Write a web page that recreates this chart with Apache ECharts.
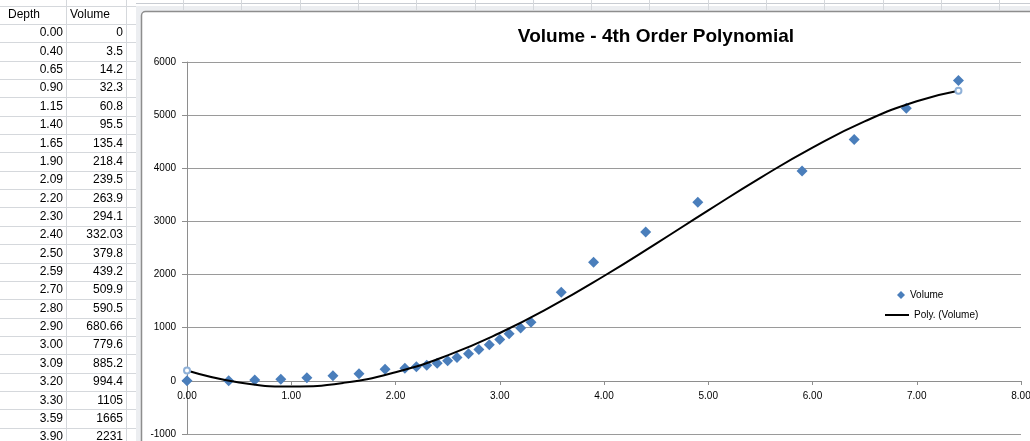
<!DOCTYPE html>
<html>
<head>
<meta charset="utf-8">
<script src="https://cdn.jsdelivr.net/npm/echarts@6/dist/echarts.min.js"></script>
<style>
html,body{margin:0;padding:0;background:#fff;}
#chart{width:1030px;height:441px;}
</style>
</head>
<body>
<div id="chart"></div>
<script>
// ---- data ----
var tableHeaders = ['Depth', 'Volume'];
var depthLabels = ['0.00','0.40','0.65','0.90','1.15','1.40','1.65','1.90','2.09','2.20','2.30','2.40','2.50','2.59','2.70','2.80','2.90','3.00','3.09','3.20','3.30','3.59','3.90'];
var volumeLabels = ['0','3.5','14.2','32.3','60.8','95.5','135.4','218.4','239.5','263.9','294.1','332.03','379.8','439.2','509.9','590.5','680.66','779.6','885.2','994.4','1105','1665','2231'];
var depth = [0,0.40,0.65,0.90,1.15,1.40,1.65,1.90,2.09,2.20,2.30,2.40,2.50,2.59,2.70,2.80,2.90,3.00,3.09,3.20,3.30,3.59,3.90,4.40,4.90,5.90,6.40,6.90,7.40];
var volume = [0,3.5,14.2,32.3,60.8,95.5,135.4,218.4,239.5,263.9,294.1,332.03,379.8,439.2,509.9,590.5,680.66,779.6,885.2,994.4,1105,1665,2231,2800,3360,3950,4540,5130,5650];
// trendline values
var trendX = [0,0.5,1.0,1.5,2.0,2.5,3.0,3.5,4.0,4.5,5.0,5.5,6.0,6.5,7.0,7.4];
var trendY = [195,-30,-105,-38,162,479,900,1404,1973,2583,3208,3820,4389,4882,5262,5460];
var xTicks = ['0.00','1.00','2.00','3.00','4.00','5.00','6.00','7.00','8.00'];

var scatterData = depth.map(function(d,i){return [d, volume[i]];});
var trendData = trendX.map(function(x,i){
  var item = {value:[x, trendY[i]]};
  if (i === 0 || i === trendX.length-1) {
    item.symbol = 'emptyCircle'; item.symbolSize = 6;
    item.itemStyle = {color:'#8fb1d8', borderColor:'#8fb1d8', borderWidth:1};
  }
  return item;
});

// ---- spreadsheet backdrop (graphic) ----
var FONT = 'Liberation Sans';
var gridCol = '#d5d8dc';
var g = [];
var rowTop = 5.5, rowH = 18.36;
var nRows = depthLabels.length + 1;
for (var r = 0; r <= nRows; r++) {
  var y = Math.round(rowTop + r*rowH) + 0.5;
  g.push({type:'line', shape:{x1:0,y1:y,x2:136,y2:y}, style:{stroke:gridCol, lineWidth:1}, silent:true});
}
[66.5, 126.5].forEach(function(x){
  g.push({type:'line', shape:{x1:x,y1:0,x2:x,y2:441}, style:{stroke:gridCol, lineWidth:1}, silent:true});
});
g.push({type:'text', x:8, y:rowTop+rowH/2, style:{text:tableHeaders[0], font:'12px '+FONT, fill:'#000', verticalAlign:'middle'}});
g.push({type:'text', x:70, y:rowTop+rowH/2, style:{text:tableHeaders[1], font:'12px '+FONT, fill:'#000', verticalAlign:'middle'}});
depthLabels.forEach(function(t,i){
  var cy = rowTop + (i+1)*rowH + rowH/2;
  g.push({type:'text', x:63, y:cy, style:{text:t, font:'12px '+FONT, fill:'#000', align:'right', verticalAlign:'middle'}});
  g.push({type:'text', x:123, y:cy, style:{text:volumeLabels[i], font:'12px '+FONT, fill:'#000', align:'right', verticalAlign:'middle'}});
});
g.push({type:'line', shape:{x1:136,y1:3.5,x2:1030,y2:3.5}, style:{stroke:'#c8ccd2', lineWidth:1}, silent:true});
for (var cx = 183; cx < 1030; cx += 58.3) {
  var xx = Math.round(cx)+0.5;
  g.push({type:'line', shape:{x1:xx,y1:0,x2:xx,y2:10}, style:{stroke:gridCol, lineWidth:1}, silent:true});
}
g.push({type:'rect', shape:{x:136,y:6,width:900,height:440}, style:{fill:'#eceef1', stroke:null}, silent:true, z:-10});
g.push({type:'rect', shape:{x:141.5,y:11.5,width:900,height:440, r:[4,0,0,0]}, style:{fill:'#fff', stroke:'#8d8d8d', lineWidth:1.5}, silent:true, z:-9});

var chart = echarts.init(document.getElementById('chart'), null, {renderer:'canvas'});
chart.setOption({
  animation:false,
  textStyle:{fontFamily:FONT},
  title:{
    text:'Volume - 4th Order Polynomial',
    left:651, top:22, textAlign:'center',
    textStyle:{fontFamily:FONT, fontSize:19, fontWeight:'bold', color:'#000'}
  },
  legend:[{
    data:['Volume'], left:892, top:285, orient:'vertical',
    icon:'diamond', itemWidth:8, itemHeight:8,
    textStyle:{fontFamily:FONT, fontSize:10, color:'#000'}
  },{
    data:['Poly. (Volume)'], left:880, top:305, orient:'vertical',
    icon:'rect', itemWidth:24, itemHeight:2,
    textStyle:{fontFamily:FONT, fontSize:10, color:'#000'}
  }],
  grid:{left:187, right:9, top:62, bottom:7, containLabel:false, outerBoundsMode:'none'},
  xAxis:{
    type:'value', min:0, max:8, interval:1, position:'bottom', offset:-53,
    axisLine:{onZero:false, lineStyle:{color:'#8e8e8e', width:1}},
    axisTick:{show:true, length:4, lineStyle:{color:'#8e8e8e'}},
    axisLabel:{show:true, color:'#000', fontSize:10, fontFamily:FONT, margin:10,
      formatter:function(v){return xTicks[Math.round(v)];}},
    splitLine:{show:false}
  },
  yAxis:{
    type:'value', min:-1000, max:6000, interval:1000,
    axisLine:{show:true, onZero:false, lineStyle:{color:'#8e8e8e', width:1}},
    axisTick:{show:true, length:5, lineStyle:{color:'#8e8e8e'}},
    axisLabel:{color:'#000', fontSize:10, fontFamily:FONT, margin:11,
      formatter:function(v){return String(v);}},
    splitLine:{show:true, lineStyle:{color:'#9a9a9a', width:1}}
  },
  graphic:g,
  series:[{
    name:'Volume', type:'scatter', symbol:'diamond', symbolSize:11,
    itemStyle:{color:'#4a7ebb', opacity:1}, data:scatterData, z:2
  },{
    name:'Poly. (Volume)', type:'line', smooth:true, symbol:'none', showSymbol:true,
    lineStyle:{color:'#000', width:2}, itemStyle:{color:'#000'},
    data:trendData, z:3
  }]
});
</script>
</body>
</html>
